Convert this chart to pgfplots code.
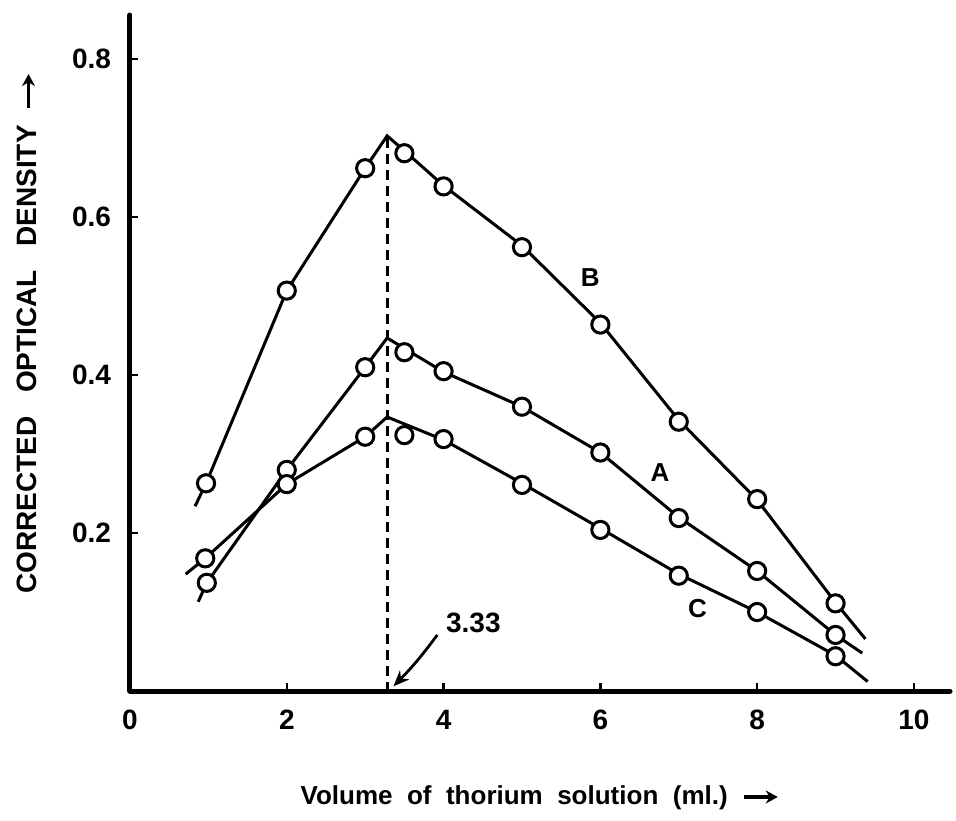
\documentclass[border=0pt]{standalone}
\usepackage{pgfplots}
\pgfplotsset{compat=1.18}
\usepackage{fontspec}
\setmainfont{Liberation Sans}
\usetikzlibrary{arrows.meta}
\newcommand{\labarrow}{\tikz[baseline=-0.55ex]\draw[line width=1.6pt,-{Stealth[length=6pt,width=6.5pt]}] (0,0)--(17pt,0);}

\begin{document}
\begin{tikzpicture}
\begin{axis}[
  at={(0,0)}, anchor=origin,
  scale only axis, width=410pt, height=338pt,
  xmin=0, xmax=10.46, ymin=0, ymax=0.856,
  axis lines=left,
  axis line style={-, line width=2.5pt, line cap=round},
  tick align=inside, major tick length=4pt,
  tick style={line width=1.2pt, black},
  xtick={0,2,4,6,8,10}, xticklabels={0,2,4,6,8,10},
  ytick={0.2,0.4,0.6,0.8}, yticklabels={0.2,0.4,0.6,0.8},
  /pgf/number format/assume math mode=true,
  tick label style={font=\bfseries\fontsize{14}{14}\selectfont},
  yticklabel style={xshift=-6pt},
  xticklabel style={yshift=-6pt},
  xlabel={\bfseries\fontsize{13}{13}\selectfont Volume\ \ of\ \ thorium\ \ solution\ \ (ml.)\ \ \labarrow},
  xlabel style={at={(axis description cs:0.5,-0.158)}, anchor=center},
  ylabel={\bfseries\fontsize{14}{14}\selectfont CORRECTED\ \ \ OPTICAL\ \ \ DENSITY\ \ \labarrow},
  ylabel style={at={(axis description cs:-0.1256,0.5296)}, anchor=center},
  clip=false,
]
% fitted lines
\addplot[line width=1.5pt, black, mark=none] coordinates {
 (0.83,0.234) (0.97,0.263) (2,0.507) (3,0.662) (3.28,0.703) (3.5,0.684) (4,0.640)
 (5,0.564) (6,0.466) (7,0.343) (8,0.242) (9,0.112) (9.38,0.066)};
\addplot[line width=1.5pt, black, mark=none] coordinates {
 (0.87,0.113) (0.98,0.137) (2,0.280) (3,0.410) (3.28,0.447) (4,0.404)
 (5,0.360) (6,0.302) (7,0.220) (8,0.152) (9,0.071) (9.34,0.048)};
\addplot[line width=1.5pt, black, mark=none] coordinates {
 (0.71,0.148) (0.96,0.168) (2,0.262) (3,0.322) (3.28,0.347) (4,0.318)
 (5,0.263) (6,0.206) (7,0.148) (8,0.100) (9,0.045) (9.41,0.012)};
% dashed line at 3.33
\draw[line width=1.6pt, dash pattern=on 5pt off 3pt] (axis cs:3.28,0.70) -- (axis cs:3.28,0);
% measured points
\addplot[only marks, mark=*, mark size=4.3pt, mark options={fill=white, draw=black, line width=1.5pt}] coordinates {
 (0.97,0.263) (2,0.507) (3,0.662) (3.5,0.681) (4,0.639) (5,0.562) (6,0.464) (7,0.341) (8,0.243) (9,0.111)};
\addplot[only marks, mark=*, mark size=4.3pt, mark options={fill=white, draw=black, line width=1.5pt}] coordinates {
 (0.98,0.137) (2,0.280) (3,0.410) (3.5,0.429) (4,0.405) (5,0.360) (6,0.302) (7,0.219) (8,0.152) (9,0.071)};
\addplot[only marks, mark=*, mark size=4.3pt, mark options={fill=white, draw=black, line width=1.5pt}] coordinates {
 (0.96,0.168) (2,0.262) (3,0.322) (3.5,0.324) (4,0.319) (5,0.261) (6,0.204) (7,0.146) (8,0.100) (9,0.044)};
% curve labels
\node[font=\bfseries\fontsize{13}{13}\selectfont] at (axis cs:5.87,0.523) {B};
\node[font=\bfseries\fontsize{13}{13}\selectfont] at (axis cs:6.76,0.277) {A};
\node[font=\bfseries\fontsize{13}{13}\selectfont] at (axis cs:7.24,0.105) {C};
% 3.33 annotation
\node[font=\bfseries\fontsize{14}{14}\selectfont] at (axis cs:4.38,0.086) {3.33};
\draw[line width=1.4pt, -{Stealth[length=8pt,width=6.5pt]}] (axis cs:3.92,0.071) to[bend left=4] (axis cs:3.36,0.006);
\end{axis}
\pgfresetboundingbox
\path[use as bounding box] (-65pt,-64.5pt) rectangle (413pt,345.5pt);
\end{tikzpicture}
\end{document}
